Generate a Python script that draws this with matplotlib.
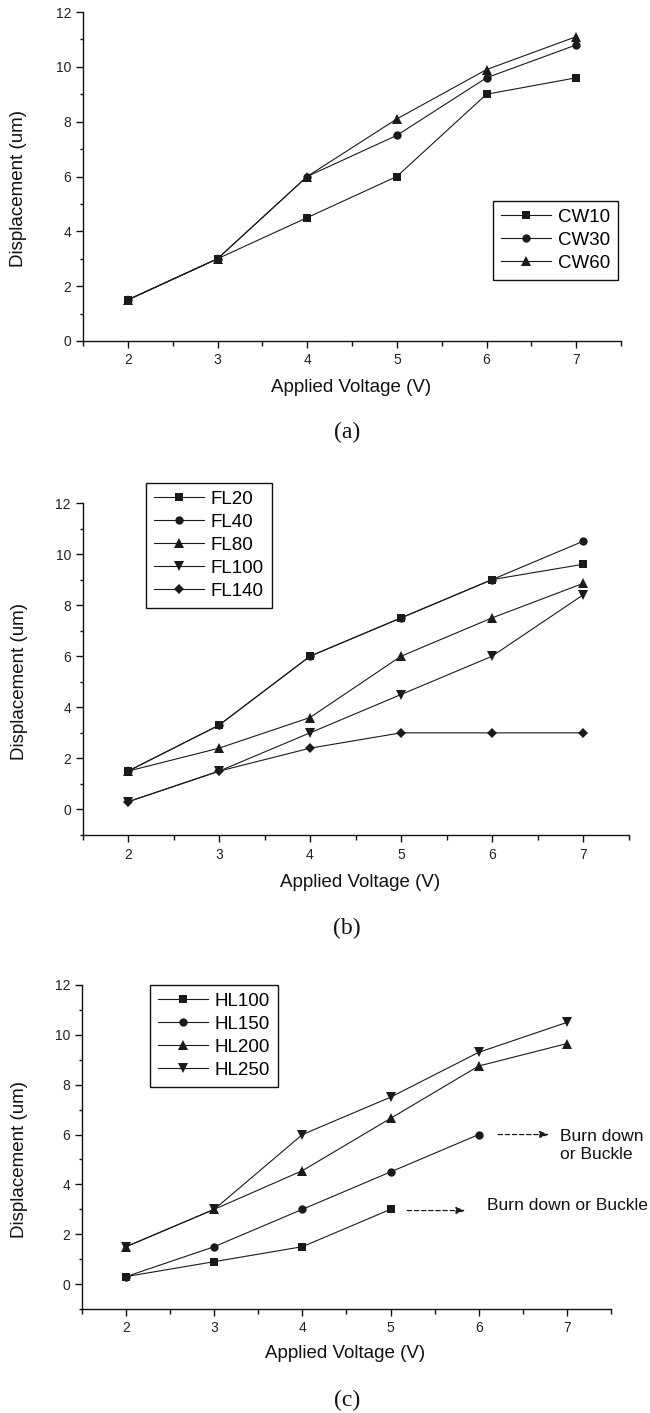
import matplotlib
matplotlib.use("Agg")
import matplotlib.pyplot as plt
from matplotlib.ticker import MultipleLocator

plt.rcParams['font.family'] = ['Liberation Sans', 'DejaVu Sans']

# ---------------- data ----------------
voltage = [2, 3, 4, 5, 6, 7]

cw_labels = ['CW10', 'CW30', 'CW60']
cw10 = [1.5, 3.0, 4.5, 6.0, 9.0, 9.6]
cw30 = [1.5, 3.0, 6.0, 7.5, 9.6, 10.8]
cw60 = [1.5, 3.0, 6.0, 8.1, 9.9, 11.1]

fl_labels = ['FL20', 'FL40', 'FL80', 'FL100', 'FL140']
fl20 = [1.5, 3.3, 6.0, 7.5, 9.0, 9.6]
fl40 = [1.5, 3.3, 6.0, 7.5, 9.0, 10.5]
fl80 = [1.5, 2.4, 3.6, 6.0, 7.5, 8.85]
fl100 = [0.3, 1.5, 3.0, 4.5, 6.0, 8.4]
fl140 = [0.3, 1.5, 2.4, 3.0, 3.0, 3.0]

hl_labels = ['HL100', 'HL150', 'HL200', 'HL250']
hl100_v = [2, 3, 4, 5]
hl100 = [0.3, 0.9, 1.5, 3.0]
hl150_v = [2, 3, 4, 5, 6]
hl150 = [0.3, 1.5, 3.0, 4.5, 6.0]
hl200 = [1.5, 3.0, 4.55, 6.65, 8.75, 9.65]
hl250 = [1.5, 3.0, 6.0, 7.5, 9.3, 10.5]

xticks = [2, 3, 4, 5, 6, 7]
yticks = [0, 2, 4, 6, 8, 10, 12]
xlabel = 'Applied Voltage (V)'
ylabel = 'Displacement (um)'
panel_labels = ['(a)', '(b)', '(c)']
note_text = 'Burn down or Buckle'
note_text2 = 'Burn down\nor Buckle'

# ---------------- style ----------------
W, H = 650, 1413
fig = plt.figure(figsize=(W / 100, H / 100), dpi=100)
LC = '#1a1a1a'
LW = 0.8
FS_LABEL = 13.5
FS_TICK = 10

MK = {
    's': 5.6,
    'o': 6.0,
    '^': 7.0,
    'v': 7.0,
    'D': 5.2,
}


def px_axes(left, right, top, bottom):
    return fig.add_axes([left / W, 1 - bottom / H, (right - left) / W, (bottom - top) / H])


def style_axes(ax, ymin):
    ax.set_xlim(1.5, 7.5)
    ax.set_ylim(ymin, 12)
    ax.spines['top'].set_visible(False)
    ax.spines['right'].set_visible(False)
    for s in ('left', 'bottom'):
        ax.spines[s].set_linewidth(1.0)
        ax.spines[s].set_color('#111111')
    ax.set_xticks(xticks)
    ax.set_yticks(yticks)
    ax.xaxis.set_minor_locator(MultipleLocator(0.5))
    ax.yaxis.set_minor_locator(MultipleLocator(1))
    ax.tick_params(axis='x', which='major', direction='out', length=5, width=1.0,
                   labelsize=FS_TICK, pad=4, color='#111111')
    ax.tick_params(axis='x', which='minor', direction='out', length=3.5, width=1.0, color='#111111')
    ax.tick_params(axis='y', which='major', direction='out', length=4.8, width=1.0,
                   labelsize=FS_TICK, pad=3.5, color='#111111')
    ax.tick_params(axis='y', which='minor', direction='out', length=2.5, width=1.0, color='#111111')
    for lab in ax.get_xticklabels() + ax.get_yticklabels():
        lab.set_color('#222222')


def labels(ax, xl_xy, yl_xy):
    ax.set_xlabel(xlabel, fontsize=FS_LABEL, va='center', color='#111111')
    ax.xaxis.set_label_coords(*xl_xy)
    ax.set_ylabel(ylabel, fontsize=FS_LABEL, va='center', color='#111111')
    ax.yaxis.set_label_coords(*yl_xy)


def legend(ax, anchor_px):
    leg = ax.legend(loc='upper left', bbox_to_anchor=(anchor_px[0] / W, 1 - anchor_px[1] / H),
                    bbox_transform=fig.transFigure, fontsize=FS_LABEL, frameon=True,
                    fancybox=False, framealpha=1, edgecolor='#111111', borderpad=0.42,
                    labelspacing=0.31, handlelength=2.67, handletextpad=0.36,
                    borderaxespad=0, numpoints=1)
    leg.get_frame().set_linewidth(1.0)
    return leg


def series(ax, x, y, marker, label):
    ax.plot(x, y, marker=marker, label=label, color=LC, lw=LW, ms=MK[marker],
            mec=LC, mfc=LC, mew=0)


# ---------------- panel (a) ----------------
ax1 = px_axes(83, 621, 12, 341)
series(ax1, voltage, cw10, 's', cw_labels[0])
series(ax1, voltage, cw30, 'o', cw_labels[1])
series(ax1, voltage, cw60, '^', cw_labels[2])
style_axes(ax1, 0)
labels(ax1, (0.498, -0.14), (-0.119, 0.465))
legend(ax1, (493, 201))

# ---------------- panel (b) ----------------
ax2 = px_axes(82.5, 628.5, 503, 835)
series(ax2, voltage, fl20, 's', fl_labels[0])
series(ax2, voltage, fl40, 'o', fl_labels[1])
series(ax2, voltage, fl80, '^', fl_labels[2])
series(ax2, voltage, fl100, 'v', fl_labels[3])
series(ax2, voltage, fl140, 'D', fl_labels[4])
style_axes(ax2, -1)
labels(ax2, (0.508, -0.1416), (-0.1163, 0.461))
legend(ax2, (146, 483))

# ---------------- panel (c) ----------------
ax3 = px_axes(82, 611, 985, 1309)
series(ax3, hl100_v, hl100, 's', hl_labels[0])
series(ax3, hl150_v, hl150, 'o', hl_labels[1])
series(ax3, voltage, hl200, '^', hl_labels[2])
series(ax3, voltage, hl250, 'v', hl_labels[3])
style_axes(ax3, -1)
labels(ax3, (0.497, -0.136), (-0.119, 0.46))
legend(ax3, (150, 985))

arrow_kw = dict(arrowstyle='-|>,head_length=0.55,head_width=0.2', color=LC, lw=0.9,
                linestyle=(0, (3.5, 2.2)), shrinkA=0, shrinkB=0)
ax3.annotate('', xy=(5.85, 2.95), xytext=(5.19, 2.95), arrowprops=arrow_kw,
             annotation_clip=False)
ax3.text(6.09, 3.15, note_text, fontsize=12.6, ha='left', va='center',
         color='#111111', clip_on=False)
ax3.annotate('', xy=(6.80, 6.0), xytext=(6.22, 6.0), arrowprops=arrow_kw,
             annotation_clip=False)
ax3.text(6.92, 5.58, note_text2, fontsize=12.6, ha='left', va='center',
         color='#111111', clip_on=False, linespacing=1.25)

# ---------------- panel labels ----------------
for lab, yc in zip(panel_labels, [432, 928, 1400]):
    fig.text(347 / W, 1 - yc / H, lab, fontsize=17, ha='center', va='center',
             family=['Liberation Serif', 'DejaVu Serif'], color='#111111')

fig.savefig('out.png', dpi=100)
